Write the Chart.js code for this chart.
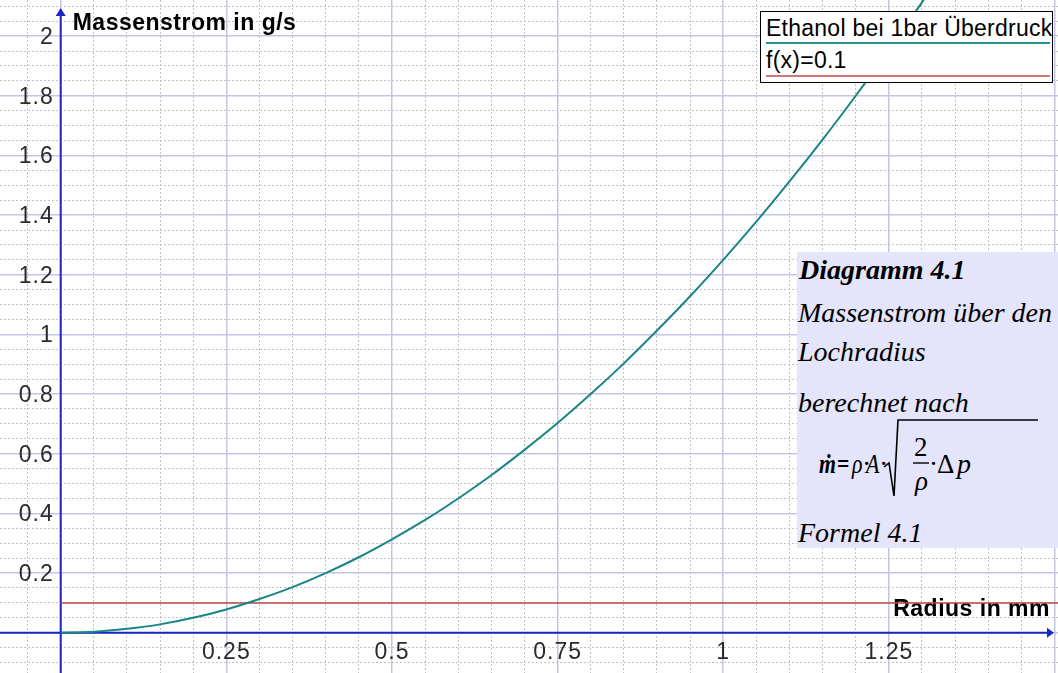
<!DOCTYPE html>
<html>
<head>
<meta charset="utf-8">
<script src="https://cdn.jsdelivr.net/npm/chart.js@4.4.1/dist/chart.umd.min.js"></script>
<style>
    html, body { margin: 0; padding: 0; background: #fff; overflow: hidden; }
    #wrap { position: relative; width: 1058px; height: 673px; }
    #legend { position: absolute; left: 760px; top: 11px; width: 291px; height: 70px; border: 1px solid #000; background: #fff; }
    #note { position: absolute; left: 797px; top: 252px; width: 261px; height: 296px; background: #e4e4fa; }
    .t { position: absolute; line-height: 0; white-space: nowrap; color: #000; }
    .sans { font-family: "Liberation Sans", Arial, sans-serif; }
    .serif { font-family: "Liberation Serif", "Times New Roman", serif; font-style: italic; }
    .ul { position: absolute; height: 2px; }
    svg { position: absolute; left: 0; top: 0; }
</style>
</head>
<body>
<div id="wrap">
    <canvas id="chart"></canvas>
    <div id="legend">
        <div class="ul" style="left:5px;width:284px;top:30px;background:#2a8f8f"></div>
        <div class="ul" style="left:5px;width:284px;top:63px;background:#d07878"></div>
    </div>
    <div id="note"></div>
    <svg width="1058" height="673">
        <path d="M 884 467 L 889 463 L 894 496 L 898 420 L 1038 420" fill="none" stroke="#000" stroke-width="1.6"/>
        <path d="M 913 463 L 929 463" fill="none" stroke="#000" stroke-width="1.4"/>
    </svg>
</div>
<script>
// values
const radius = [0, 0.05, 0.1, 0.15, 0.2, 0.25, 0.3, 0.35, 0.4, 0.45, 0.5, 0.55, 0.6, 0.65, 0.7,
    0.75, 0.8, 0.85, 0.9, 0.95, 1, 1.05, 1.1, 1.15, 1.2, 1.25, 1.3, 1.35];
const massFlow = [0, 0.003, 0.013, 0.028, 0.05, 0.078, 0.113, 0.153, 0.2, 0.253, 0.313, 0.378, 0.45, 0.528, 0.613,
    0.703, 0.8, 0.903, 1.013, 1.128, 1.25, 1.378, 1.513, 1.653, 1.8, 1.953, 2.113, 2.278];
const limitX = [0, 1.51];
const limitY = [0.1, 0.1];
const xTicks = [0.25, 0.5, 0.75, 1, 1.25];
const yTicks = [0.2, 0.4, 0.6, 0.8, 1, 1.2, 1.4, 1.6, 1.8, 2];
const xRange = [-0.0916, 1.5053];
const yRange = [-0.135, 2.121];

const axisColor = '#1a26c4';
const majorGrid = '#c4c4e6';
const minorGrid = '#c2c2c2';

// text placed by baseline (line-height 0 puts the middle of the glyph box at top)
function addText(parent, text, x, base, size, cls, extra) {
    const d = document.createElement('div');
    d.className = 't ' + cls;
    const k = cls === 'sans' ? 0.3465 : 0.3375;
    d.style.left = x + 'px';
    d.style.top = (base - k * size) + 'px';
    d.style.fontSize = size + 'px';
    if (extra) d.style.cssText += extra;
    d.textContent = text;
    parent.appendChild(d);
}

const wrap = document.getElementById('wrap');
const legend = document.getElementById('legend');
addText(legend, 'Ethanol bei 1bar Überdruck', 5, 24, 23, 'sans', 'letter-spacing:0.25px');
addText(legend, 'f(x)=0.1', 5, 56, 23, 'sans', 'letter-spacing:0.25px');

addText(wrap, 'Diagramm 4.1', 799, 279, 28, 'serif', 'font-weight:bold');
addText(wrap, 'Massenstrom über den', 798, 322, 28, 'serif');
addText(wrap, 'Lochradius', 798, 361, 28, 'serif');
addText(wrap, 'berechnet nach', 798, 412, 28, 'serif');
// formula, glyph by glyph
const narrow = ';transform:scaleX(0.78);transform-origin:0 0';
addText(wrap, 'ṁ', 819, 473, 28, 'serif', 'font-weight:bold' + narrow);
addText(wrap, '=', 837, 473, 28, 'serif', 'font-weight:bold;font-style:normal' + narrow);
addText(wrap, 'ρ', 852, 473, 28, 'serif', narrow);
addText(wrap, '·', 862, 473, 28, 'serif', 'font-style:normal');
addText(wrap, 'A', 866, 473, 28, 'serif', narrow);
addText(wrap, '·', 879, 473, 28, 'serif', 'font-style:normal');
addText(wrap, '2', 914, 456, 27, 'serif', 'font-style:normal');
addText(wrap, 'ρ', 915, 490, 27, 'serif');
addText(wrap, '·', 929, 473, 27, 'serif', 'font-style:normal');
addText(wrap, 'Δ', 937, 473, 27, 'serif', 'font-style:normal');
addText(wrap, 'p', 957, 473, 28, 'serif');
addText(wrap, 'Formel 4.1', 798, 542, 28, 'serif');

function onStep(v, step) {
    return Math.abs(v / step - Math.round(v / step)) < 1e-6;
}

const axesPlugin = {
    id: 'geoAxes',
    beforeDatasetsDraw(chart) {
        const { ctx, chartArea, scales: { x, y } } = chart;
        const x0 = x.getPixelForValue(0);
        const y0 = y.getPixelForValue(0);
        ctx.save();
        ctx.strokeStyle = axisColor;
        ctx.fillStyle = axisColor;
        ctx.lineWidth = 2;
        ctx.beginPath();
        ctx.moveTo(chartArea.left, y0);
        ctx.lineTo(chartArea.right - 8, y0);
        ctx.moveTo(x0, chartArea.bottom);
        ctx.lineTo(x0, chartArea.top + 14);
        ctx.stroke();
        // arrow heads
        ctx.beginPath();
        ctx.moveTo(chartArea.right - 4, y0);
        ctx.lineTo(chartArea.right - 11, y0 - 5);
        ctx.lineTo(chartArea.right - 11, y0 + 5);
        ctx.closePath();
        ctx.fill();
        ctx.beginPath();
        ctx.moveTo(x0, chartArea.top + 8);
        ctx.lineTo(x0 - 5, chartArea.top + 16);
        ctx.lineTo(x0 + 5, chartArea.top + 16);
        ctx.closePath();
        ctx.fill();

        // tick labels
        ctx.fillStyle = '#2a2a2a';
        ctx.font = '23px "Liberation Sans", Arial, sans-serif';
        ctx.letterSpacing = '1px';
        ctx.textBaseline = 'alphabetic';
        ctx.textAlign = 'center';
        xTicks.forEach(v => ctx.fillText(String(v), x.getPixelForValue(v), y0 + 26));
        ctx.textAlign = 'right';
        yTicks.forEach(v => ctx.fillText(String(v), x0 - 7, y.getPixelForValue(v) + 8));

        // axis titles
        ctx.fillStyle = '#000';
        ctx.letterSpacing = '0.5px';
        ctx.font = 'bold 23px "Liberation Sans", Arial, sans-serif';
        ctx.textAlign = 'left';
        ctx.fillText('Massenstrom in g/s', x0 + 12, chartArea.top + 30);
        ctx.textAlign = 'right';
        ctx.fillText('Radius in mm', chartArea.right - 8, y0 - 17);
        ctx.restore();
    }
};

new Chart(document.getElementById('chart'), {
    type: 'line',
    data: {
        datasets: [
            {
                label: 'Ethanol bei 1bar Überdruck',
                data: radius.map((r, i) => ({ x: r, y: massFlow[i] })),
                borderColor: '#1a8585',
                borderWidth: 2,
                pointRadius: 0,
                cubicInterpolationMode: 'monotone'
            },
            {
                label: 'f(x)=0.1',
                data: limitX.map((r, i) => ({ x: r, y: limitY[i] })),
                borderColor: '#b84848',
                borderWidth: 1.5,
                pointRadius: 0
            }
        ]
    },
    options: {
        responsive: true,
        maintainAspectRatio: false,
        animation: false,
        devicePixelRatio: 1,
        layout: { padding: 0 },
        plugins: { legend: { display: false }, tooltip: { enabled: false } },
        scales: {
            xm: {
                type: 'linear', axis: 'x', position: 'bottom',
                min: xRange[0], max: xRange[1],
                ticks: { display: false, stepSize: 0.05, includeBounds: false },
                grid: { drawTicks: false, lineWidth: 1,
                    color: c => onStep(c.tick.value, 0.25) ? 'rgba(0,0,0,0)' : minorGrid },
                border: { display: false, dash: [2, 2] }
            },
            ym: {
                type: 'linear', axis: 'y', position: 'left',
                min: yRange[0], max: yRange[1],
                ticks: { display: false, stepSize: 0.05, includeBounds: false },
                grid: { drawTicks: false, lineWidth: 1,
                    color: c => onStep(c.tick.value, 0.2) ? 'rgba(0,0,0,0)' : minorGrid },
                border: { display: false, dash: [2, 2] }
            },
            x: {
                type: 'linear', position: 'bottom',
                min: xRange[0], max: xRange[1],
                ticks: { display: false, stepSize: 0.25, includeBounds: false },
                grid: { drawTicks: false, lineWidth: 1.5, color: majorGrid },
                border: { display: false }
            },
            y: {
                type: 'linear', position: 'left',
                min: yRange[0], max: yRange[1],
                ticks: { display: false, stepSize: 0.2, includeBounds: false },
                grid: { drawTicks: false, lineWidth: 1.5, color: majorGrid },
                border: { display: false }
            }
        }
    },
    plugins: [axesPlugin]
});
</script>
</body>
</html>
